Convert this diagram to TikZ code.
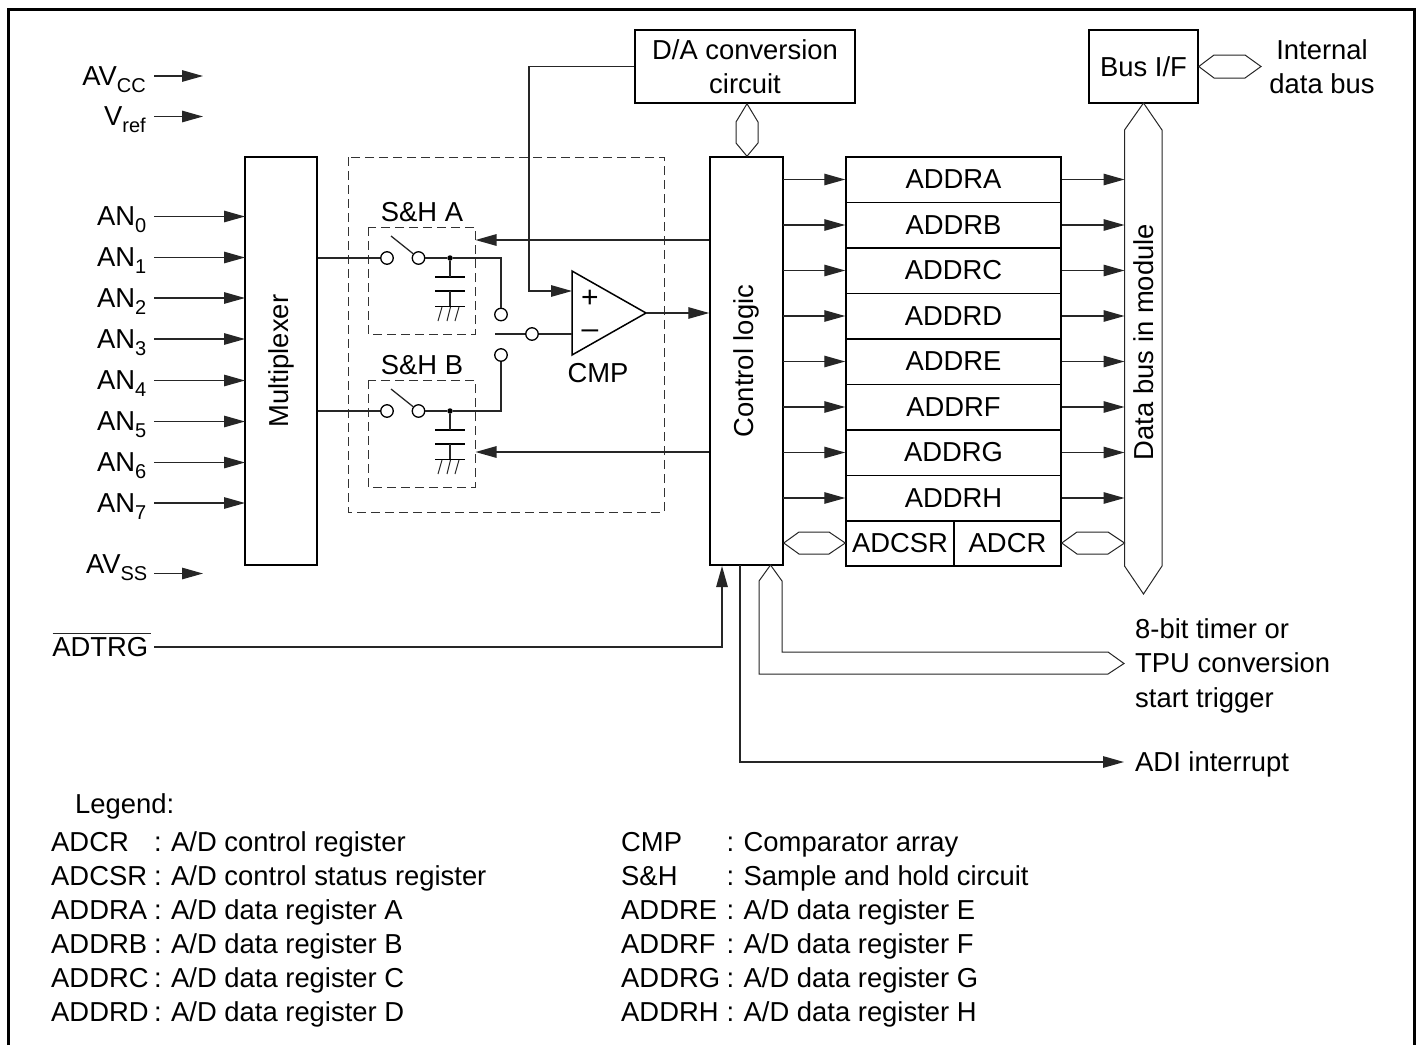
\documentclass[tikz,border=0pt]{standalone}
\usepackage{fontspec}
\setmainfont{Liberation Sans}
\usetikzlibrary{arrows.meta}
\tikzset{
  x=1pt,y=-1pt,
  ln/.style={line width=1.3pt,black!85},
  arr/.style={ln,-{Triangle[length=21pt,width=11.5pt]}},
  box/.style={draw,line width=1.5pt,black,inner sep=0pt,align=center,font=\fs},
  bus/.style={draw,line width=1pt,black!85,fill=white},
  dashbox/.style={draw,line width=1pt,black!80,dash pattern=on 9pt off 5pt},
  tx/.style={inner sep=0pt,font=\fs,align=center},
  lab/.style={inner sep=0pt,font=\fs,anchor=base east},
  lg/.style={inner sep=0pt,font=\fs,anchor=base west},
  sw/.style={circle,draw,line width=1.3pt,fill=white,minimum size=12.5pt,inner sep=0pt},
  dotn/.style={circle,fill=black,minimum size=5.5pt,inner sep=0pt},
  plate/.style={line width=1.5pt,black},
  sgn/.style={inner sep=0pt,font=\fontsize{30}{30}\selectfont},
}
\newcommand{\fs}{\fontsize{27.4}{34.5}\selectfont}
\newcommand{\sbs}[1]{\raisebox{-7pt}{\fontsize{20}{20}\selectfont #1}}
\newcommand{\lgi}[3]{\makebox[#1pt][l]{#2}\makebox[17pt][l]{:}#3}
\newcommand{\regbox}[2]{\node[box,minimum width=215pt,minimum height=45.5pt] (#1) at (953.5,#2) {#1};
  \coordinate (c#1) at (783,#2); \coordinate (d#1) at (1124.5,#2);
  \draw[arr] (c#1) -- (#1.west); \draw[arr] (#1.east) -- (d#1);}
\newcommand{\inp}[3]{\node[lab] (#1) at (146.5,#2+9) {AN\sbs{#3}};
  \coordinate (s#1) at (154,#2); \coordinate (m#1) at (245,#2); \draw[arr] (s#1) -- (m#1);}
\begin{document}
\begin{tikzpicture}
\useasboundingbox (0,0) rectangle (1419,1045);
\draw[line width=3pt,black] (8.5,1045) -- (8.5,9.7) -- (1414.5,9.7) -- (1414.5,1045);

% top boxes
\node[box,minimum width=220pt,minimum height=73pt] (da) at (745,66.5) {D/A conversion\\circuit};
\node[box,minimum width=109pt,minimum height=73pt] (bif) at (1143.5,66.5) {Bus I/F};
\node[tx] (idb) at (1322,66.5) {Internal\\data bus};

% main boxes
\node[box,minimum width=72pt,minimum height=408pt] (mux) at (281,361) {\rotatebox{90}{Multiplexer}};
\node[box,minimum width=73pt,minimum height=408pt] (ctl) at (746.5,361) {\rotatebox{90}{Control logic}};

% dashed
\draw[dashbox] (348,157) rectangle (664,512);
\draw[dashbox] (368,227) rectangle (475,334);
\draw[dashbox] (368,380) rectangle (475,487);

% registers
\regbox{ADDRA}{179.5}
\regbox{ADDRB}{225}
\regbox{ADDRC}{270.5}
\regbox{ADDRD}{316}
\regbox{ADDRE}{361.5}
\regbox{ADDRF}{407}
\regbox{ADDRG}{452.5}
\regbox{ADDRH}{498}
\node[box,minimum width=108pt,minimum height=45.5pt] (adcsr) at (900,543) {ADCSR};
\node[box,minimum width=107pt,minimum height=45.5pt] (adcr) at (1007.5,543) {ADCR};

% buses
\coordinate (dbtop) at (1143.5,103);
\coordinate (dbbot) at (1143.5,594);
\draw[bus] (dbtop) -- (1162,130) -- (1162,566) -- (dbbot) -- (1124.5,566) -- (1124.5,130) -- cycle;
\node[inner sep=0pt,font=\fs] (dbl) at (1143.5,342) {\rotatebox{90}{Data bus in module}};
\draw[bus] (da.south -| 747,0) -- (758,122) -- (758,143) -- (ctl.north -| 747,0) -- (736,143) -- (736,122) -- cycle;
\draw[bus] (bif.east) -- (1214,55) -- (1245,55) -- (1261,66.5) -- (1245,78) -- (1214,78) -- cycle;
\draw[bus] (ctl.east |- adcsr.west) -- (799,532) -- (829,532) -- (adcsr.west) -- (829,554) -- (799,554) -- cycle;
\draw[bus] (adcr.east) -- (1077,532) -- (1108,532) -- (1124.5,543) -- (1108,554) -- (1077,554) -- cycle;
\coordinate (trtip) at (1124,663.5);
\draw[bus] (770.5,565) -- (782,581) -- (782,652) -- (1108,652) -- (trtip) -- (1108,674) -- (759,674) -- (759,581) -- cycle;
\node[tx,align=left,anchor=west] (trg) at (1135,665.5) {8-bit timer or\\TPU conversion\\start trigger};

% supply arrows
\node[lab] (avcc) at (146,85) {AV\sbs{CC}};
\coordinate (avccs) at (154,76); \coordinate (avcce) at (203,76); \draw[arr] (avccs) -- (avcce);
\node[lab] (vref) at (146,125) {V\sbs{ref}};
\coordinate (vrefs) at (154,116.5); \coordinate (vrefe) at (203,116.5); \draw[arr] (vrefs) -- (vrefe);
\node[lab] (avss) at (147.5,573) {AV\sbs{SS}};
\coordinate (avsss) at (154,573.5); \coordinate (avsse) at (203,573.5); \draw[arr] (avsss) -- (avsse);

% analog inputs
\inp{an0}{216.5}{0}
\inp{an1}{257.5}{1}
\inp{an2}{298}{2}
\inp{an3}{339}{3}
\inp{an4}{380.5}{4}
\inp{an5}{421.5}{5}
\inp{an6}{462.5}{6}
\inp{an7}{503}{7}

% S&H A
\node[tx] (sha) at (422,212) {S\&H A};
\node[sw] (a1) at (387,258) {};
\node[sw] (a2) at (418.5,258) {};
\coordinate (al) at (391,236);
\draw[ln] (al) -- (a2);
\node[dotn] (ad) at (450,258) {};
\draw[ln] (a1.west -| mux.east) -- (a1);
\draw[ln] (a2) -- (ad);
\draw[plate] (435,277) -- (465,277) (435,291) -- (465,291) (435,306.5) -- (465,306.5);
\draw[ln] (ad) -- (450,277) (450,291) -- (450,306);
\draw[ln,line width=1pt] (442,307) -- (438,321) (450.5,307) -- (447,321) (459,307) -- (455,321);
% S&H B
\node[tx] (shb) at (422,365) {S\&H B};
\node[sw] (b1) at (387,411) {};
\node[sw] (b2) at (418.5,411) {};
\coordinate (bl) at (391,389);
\draw[ln] (bl) -- (b2);
\node[dotn] (bd) at (450,411) {};
\draw[ln] (b1.west -| mux.east) -- (b1);
\draw[ln] (b2) -- (bd);
\draw[plate] (435,430) -- (465,430) (435,444) -- (465,444) (435,459.5) -- (465,459.5);
\draw[ln] (bd) -- (450,430) (450,444) -- (450,459);
\draw[ln,line width=1pt] (442,460) -- (438,474) (450.5,460) -- (447,474) (459,460) -- (455,474);

% selector
\node[sw] (s1) at (501,314.5) {};
\node[sw] (s2) at (501,355) {};
\node[sw] (s3) at (532,334) {};
\coordinate (sl) at (495,334);
\draw[ln] (ad) -- (501,258) -- (s1);
\draw[ln] (bd) -- (501,411) -- (s2);
\draw[ln] (sl) -- (s3);

% comparator
\coordinate (ctop) at (572,271);
\coordinate (cbot) at (572,355);
\coordinate (ctip) at (646,313);
\coordinate (cminus) at (572,334);
\coordinate (cplus) at (572,291);
\draw[line width=1.5pt,black,fill=white] (ctop) -- (ctip) -- (cbot) -- cycle;
\draw[ln] (s3) -- (cminus);
\node[sgn] (pl) at (590,299) {+};
\node[sgn] (mi) at (590,334) {–};
\node[tx] (cmp) at (598,373) {CMP};

% control connections
\draw[arr] (da.west) -| (529,291) -- (cplus);
\draw[arr] (ctip) -- (ctl.west |- ctip);
\coordinate (ea) at (475.5,240); \draw[arr] (ctl.west |- ea) -- (ea);
\coordinate (eb) at (475.5,452); \draw[arr] (ctl.west |- eb) -- (eb);

% ADTRG
\node[lab] (adtrg) at (148.5,656) {ADTRG};
\coordinate (adol) at (52.5,633); \coordinate (ador) at (150.5,633);
\draw[line width=1pt,black!85] (adol) -- (ador);
\coordinate (adts) at (154,647);
\coordinate (adtt) at (722,566);
\draw[arr] (adts) -- (722,647) -- (adtt);

% ADI
\node[lab,anchor=base west] (adi) at (1135,771) {ADI interrupt};
\coordinate (adis) at (740,565);
\coordinate (adie) at (1124,762);
\draw[arr] (adis) |- (adie);

% legend
\node[lg] (l0) at (75,813) {Legend:};
\node[lg] (l1) at (51,851) {\lgi{103}{ADCR}{A/D control register}};
\node[lg] (l2) at (51,885) {\lgi{103}{ADCSR}{A/D control status register}};
\node[lg] (l3) at (51,919) {\lgi{103}{ADDRA}{A/D data register A}};
\node[lg] (l4) at (51,953) {\lgi{103}{ADDRB}{A/D data register B}};
\node[lg] (l5) at (51,987) {\lgi{103}{ADDRC}{A/D data register C}};
\node[lg] (l6) at (51,1021.5) {\lgi{103}{ADDRD}{A/D data register D}};
\node[lg] (r1) at (621,851) {\lgi{105.5}{CMP}{Comparator array}};
\node[lg] (r2) at (621,885) {\lgi{105.5}{S\&H}{Sample and hold circuit}};
\node[lg] (r3) at (621,919) {\lgi{105.5}{ADDRE}{A/D data register E}};
\node[lg] (r4) at (621,953) {\lgi{105.5}{ADDRF}{A/D data register F}};
\node[lg] (r5) at (621,987) {\lgi{105.5}{ADDRG}{A/D data register G}};
\node[lg] (r6) at (621,1021.5) {\lgi{105.5}{ADDRH}{A/D data register H}};
\end{tikzpicture}
\end{document}
